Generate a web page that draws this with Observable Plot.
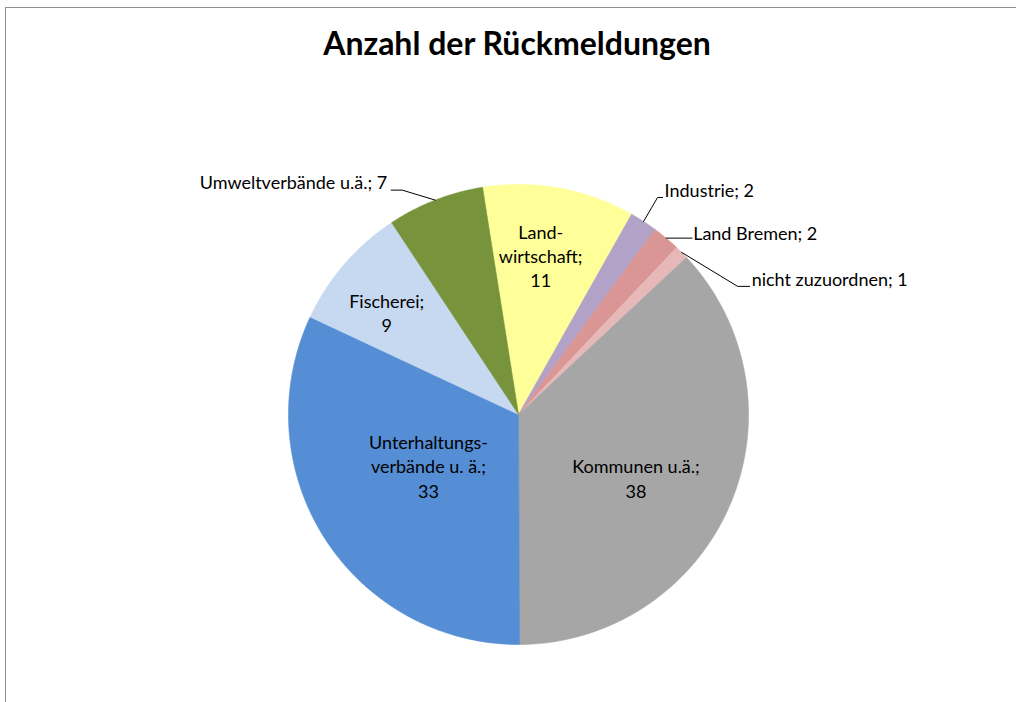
<!DOCTYPE html>
<html>
<head>
<meta charset="utf-8">
<script src="https://cdn.jsdelivr.net/npm/d3@7"></script>
<script src="https://cdn.jsdelivr.net/npm/@observablehq/plot@0.6"></script>
<style>
  html, body { margin: 0; padding: 0; background: #fff; }
  #wrap { position: relative; width: 1016px; height: 702px; overflow: hidden; }
  #border { position: absolute; left: 5px; top: 7px; right: -2px; bottom: -2px;
            border-left: 1.5px solid #8f8f8f; border-top: 1.5px solid #8f8f8f; }
  #title { position: absolute; left: 0; top: 23px; width: 1034px; text-align: center;
           font-family: Lato, sans-serif; font-weight: bold; font-size: 32px; color: #000; }
  #chart { position: absolute; left: 0; top: 0; }
</style>
</head>
<body>
<div id="wrap">
  <div id="border"></div>
  <div id="title">Anzahl der Rückmeldungen</div>
  <div id="chart"></div>
</div>
<script>
// ---- data ----
const names = ["Landwirtschaft", "Industrie", "Land Bremen", "nicht zuzuordnen",
               "Kommunen u.ä.", "Unterhaltungsverbände u. ä.", "Fischerei", "Umweltverbände u.ä."];
const values = [11, 2, 2, 1, 38, 33, 9, 7];
const labelTexts = ["Land-\nwirtschaft;", "Industrie;", "Land Bremen;", "nicht zuzuordnen;",
                    "Kommunen u.ä.;", "Unterhaltungs-\nverbände u. ä.;", "Fischerei;", "Umweltverbände u.ä.;"];
const colors = ["#ffff99", "#b3a2c7", "#d99694", "#e6b9b8",
                "#a6a6a6", "#558ed5", "#c6d9f1", "#77933c"];
const firstSliceAngle = 351; // degrees, clockwise from 12 o'clock

// ---- layout (not data) ----
const R = 230;
const inside = {  // label radius (fraction of R) and angular nudge (degrees)
  "Landwirtschaft": {r: 0.70, da: -2.3},
  "Kommunen u.ä.": {r: 0.58, da: 4.9},
  "Unterhaltungsverbände u. ä.": {r: 0.45, da: 3},
  "Fischerei": {r: 0.725, da: -3}
};
// outside labels: leader elbow/end offsets (px, +dy = down, relative to arc edge point), text anchor offsets
const outside = {
  "Industrie":           {pts: [[14, -24], [19, -24]], text: [21, -30], anchor: "start"},
  "Land Bremen":         {pts: [[26, 0]],              text: [27, -4],  anchor: "start"},
  "nicht zuzuordnen":    {pts: [[56, 34], [68, 34]],   text: [70, 28],  anchor: "start"},
  "Umweltverbände u.ä.": {pts: [[-33, -10], [-44, -10]], text: [-48, -17], anchor: "end"}
};

// ---- build geometry from data ----
const rad = Math.PI / 180;
const pie = d3.pie().sort(null).value(d => d)
  .startAngle(firstSliceAngle * rad - 2 * Math.PI)
  .endAngle(firstSliceAngle * rad);
const arcs = pie(values);

const slicePts = [];
arcs.forEach((a, i) => {
  const name = names[i];
  slicePts.push({name, x: 0, y: 0});
  const n = Math.max(4, Math.ceil((a.endAngle - a.startAngle) / (0.4 * rad)));
  for (let k = 0; k <= n; k++) {
    const t = a.startAngle + (a.endAngle - a.startAngle) * k / n;
    slicePts.push({name, x: R * Math.sin(t), y: R * Math.cos(t)});
  }
  slicePts.push({name, x: 0, y: 0});
});

const labels = [];
const leaders = [];
arcs.forEach((a, i) => {
  const name = names[i];
  const mid = (a.startAngle + a.endAngle) / 2;
  if (inside[name] !== undefined) {
    const r = inside[name].r * R, t = mid + inside[name].da * rad;
    labels.push({text: labelTexts[i] + "\n" + values[i], x: r * Math.sin(t), y: r * Math.cos(t), anchor: "middle"});
  } else {
    const o = outside[name];
    const ex = R * Math.sin(mid), ey = R * Math.cos(mid);
    leaders.push({name, x: ex, y: ey});
    o.pts.forEach(([dx, dy]) => leaders.push({name, x: ex + dx, y: ey - dy}));
    labels.push({text: labelTexts[i] + " " + values[i], x: ex + o.text[0], y: ey - o.text[1], anchor: o.anchor});
  }
});

const cx = 518, cy = 414;
const chart = Plot.plot({
  width: 1016, height: 702,
  margin: 0,
  x: {domain: [-cx, 1016 - cx], range: [0, 1016], axis: null},
  y: {domain: [-(702 - cy), cy], range: [702, 0], axis: null},
  color: {domain: names, range: colors},
  style: {background: "transparent", fontFamily: "Lato, sans-serif"},
  marks: [
    Plot.line(slicePts, {x: "x", y: "y", z: "name", fill: "name", stroke: "name", strokeWidth: 0.6, curve: "linear"}),
    Plot.line(leaders, {x: "x", y: "y", z: "name", stroke: "#000", strokeWidth: 1, curve: "linear"}),
    Plot.text(labels.filter(d => d.anchor === "middle"), {x: "x", y: "y", text: "text", textAnchor: "middle", fontSize: 18, lineHeight: 1.35, fill: "#000"}),
    Plot.text(labels.filter(d => d.anchor === "start"), {x: "x", y: "y", text: "text", textAnchor: "start", fontSize: 18, fill: "#000"}),
    Plot.text(labels.filter(d => d.anchor === "end"), {x: "x", y: "y", text: "text", textAnchor: "end", fontSize: 18, fill: "#000"})
  ]
});
document.getElementById("chart").appendChild(chart);
</script>
</body>
</html>
